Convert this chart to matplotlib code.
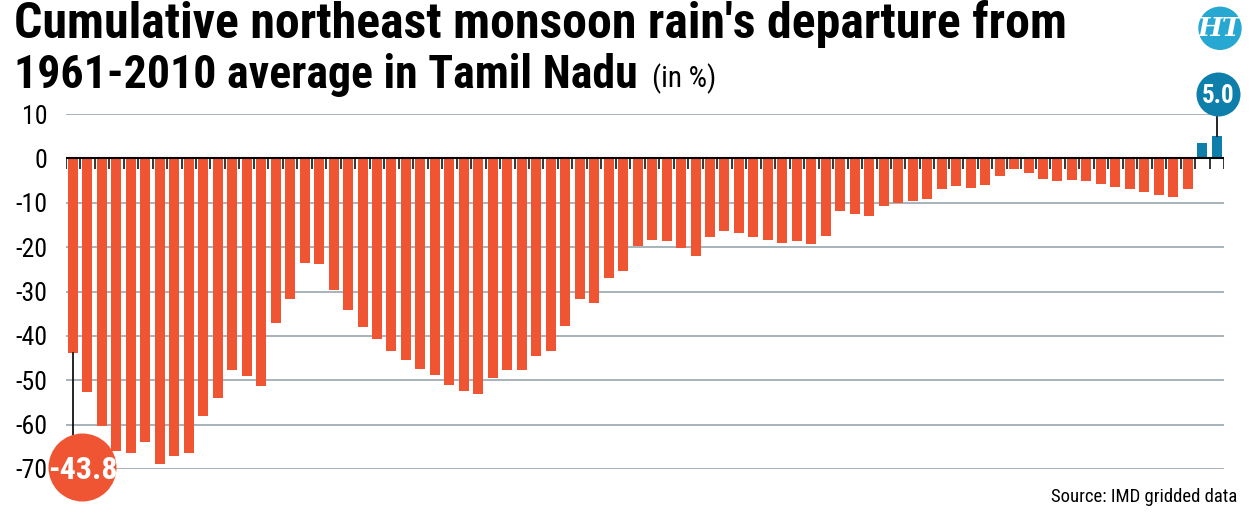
import matplotlib
matplotlib.use("Agg")
import matplotlib.pyplot as plt
from matplotlib import font_manager
from matplotlib.patches import Circle
import numpy as np

# cumulative NE monsoon departure from the 1961-2010 mean (%), one bar per season
departure = [-43.8, -52.6, -60.2, -65.9, -66.5, -63.9, -68.8, -67.1, -66.4, -58.0,
             -53.9, -47.6, -49.0, -51.2, -37.0, -31.8, -23.6, -23.9, -29.6, -34.2,
             -38.1, -40.7, -43.4, -45.4, -47.5, -48.9, -51.0, -52.5, -53.1, -49.6,
             -47.6, -47.6, -44.5, -43.5, -37.8, -31.6, -32.7, -26.9, -25.4, -19.8,
             -18.4, -18.7, -20.1, -22.0, -17.8, -16.3, -16.8, -17.7, -18.4, -19.0,
             -18.7, -19.4, -17.5, -11.9, -12.6, -13.0, -10.8, -10.1, -9.5, -9.2,
             -6.8, -6.3, -6.7, -5.9, -3.9, -2.5, -3.3, -4.6, -5.0, -4.8,
             -5.0, -5.7, -6.4, -6.8, -7.6, -8.2, -8.6, -6.8, 3.5, 5.0]
yticks = [10, 0, -10, -20, -30, -40, -50, -60, -70]
title_1 = "Cumulative northeast monsoon rain's departure from"
title_2 = "1961-2010 average in Tamil Nadu"
unit = "(in %)"
source = "Source: IMD gridded data"

ORANGE = "#f05533"
BLUE = "#0e7fab"
LOGO = "#27a8d2"
GRID = "#98a5ae"

avail = {f.name for f in font_manager.fontManager.ttflist}
narrow = next((f for f in ["Roboto Condensed", "Liberation Sans Narrow", "Open Sans Condensed"]
               if f in avail), "Liberation Sans")

fig = plt.figure(figsize=(12.5, 5.13), dpi=100)
W, H = 1250, 513
ax = fig.add_axes([65.7 / W, 1 - 469 / H, (1224 - 65.7) / W, (469 - 114) / H])

x = np.arange(len(departure))
vals = np.array(departure)
colors = [BLUE if v > 0 else ORANGE for v in vals]
ax.bar(x, vals, width=0.69, color=colors, zorder=3)

ax.set_xlim(-0.5, len(vals) - 0.5)
ax.set_ylim(-70, 10)
for s in ax.spines.values():
    s.set_visible(False)
ax.set_xticks([])
ax.set_yticks(yticks)
ax.set_yticklabels([str(t) for t in yticks], fontfamily=narrow, fontsize=18.5)
ax.tick_params(axis="y", length=0, pad=13)
for t in yticks:
    if t != 0:
        ax.axhline(t, color=GRID, lw=1.2, zorder=1)
ax.axhline(0, color="black", lw=1.5, zorder=4)
# little ticks at bar boundaries under the zero line
ax.vlines(np.arange(-0.5, len(vals)), 0, -2.3, color="black", lw=1.1, zorder=4)

# first-value bubble
ax.plot([0, 0], [vals[0], -68], color="black", lw=1.2, zorder=5, clip_on=False)
ax.scatter([0.66], [-69.6], s=(68 * 0.72) ** 2, color=ORANGE, zorder=6, clip_on=False, linewidths=0)
ax.text(0.66, -69.6, f"{vals[0]:.1f}", color="white", fontsize=23, fontweight="bold",
        fontfamily=narrow, ha="center", va="center_baseline", zorder=7, clip_on=False)

# last-value bubble
ax.plot([len(vals) - 1] * 2, [vals[-1], 14], color="black", lw=1.2, zorder=5, clip_on=False)
ax.scatter([len(vals) - 0.9], [14.6], s=(44 * 0.72) ** 2, color=BLUE, zorder=6, clip_on=False, linewidths=0)
ax.text(len(vals) - 0.9, 14.6, f"{vals[-1]:.1f}", color="white", fontsize=18, fontweight="bold",
        fontfamily=narrow, ha="center", va="center_baseline", zorder=7, clip_on=False)

# titles
t1 = fig.text(14 / W, 1 - 38 / H, title_1, fontsize=30, fontweight="bold", fontfamily=narrow,
              ha="left", va="baseline")
t2 = fig.text(14 / W, 1 - 88 / H, title_2, fontsize=30, fontweight="bold", fontfamily=narrow,
              ha="left", va="baseline")
fig.canvas.draw()
for t, target in [(t1, 1067 - 14), (t2, 637 - 14)]:
    bb = t.get_window_extent()
    t.set_fontsize(t.get_fontsize() * target / bb.width)
fig.canvas.draw()
fig.text(652 / W, 1 - 87 / H, unit, fontsize=21, fontfamily=narrow, ha="left", va="baseline")

fig.text(1237 / W, 1 - 502 / H, source, fontsize=13.5, fontfamily=narrow, ha="right", va="baseline")

# logo
fig.add_artist(Circle((12.20, 5.13 - 0.283), 0.21, transform=fig.dpi_scale_trans,
                      color=LOGO, zorder=10))
fig.text(12.20 / 12.5, 1 - 0.283 / 5.13, "HT", color="white", fontsize=19, fontweight="bold",
         fontstyle="italic", fontfamily="DejaVu Serif", ha="center", va="center", zorder=11)

fig.savefig("out.png", dpi=100)
